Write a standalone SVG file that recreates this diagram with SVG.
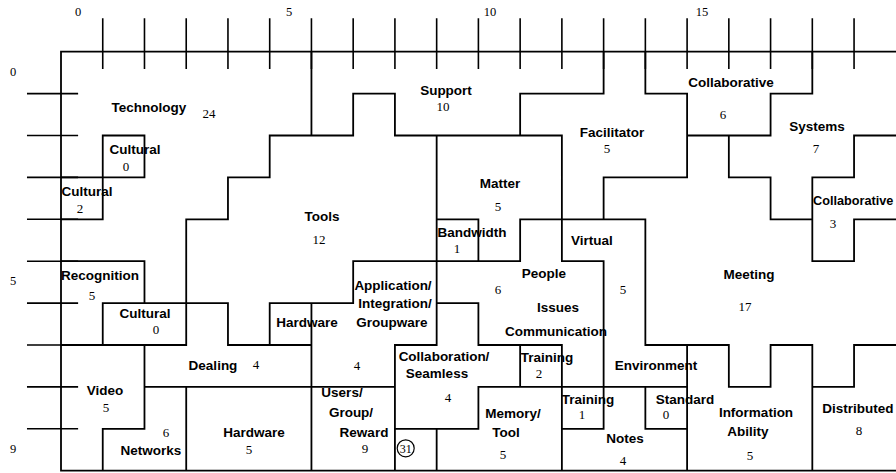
<svg xmlns="http://www.w3.org/2000/svg" width="896" height="473" viewBox="0 0 896 473">
<style>
.ln{fill:none;stroke:#000;stroke-width:1.8;stroke-linecap:square;vector-effect:non-scaling-stroke}
.tk{fill:none;stroke:#000;stroke-width:1.6;vector-effect:non-scaling-stroke}
.lb{font-family:"Liberation Sans",Arial,sans-serif;font-weight:bold;font-size:13.5px;fill:#000;text-anchor:middle}
.nm{font-family:"Liberation Serif","Times New Roman",serif;font-size:13px;fill:#000;text-anchor:middle}
.ax{font-family:"Liberation Serif","Times New Roman",serif;font-size:12.5px;fill:#000;text-anchor:middle}
</style>
<rect width="896" height="473" fill="#fff"/>
<g id="axes">
<g transform="translate(61,51.7) scale(41.74,41.9)">
<path class="tk" d="M1 -0.8V0.41M2 -0.8V0.41M3 -0.8V0.41M4 -0.8V0.41M5 -0.8V0.41M6 -0.8V0.41M7 -0.8V0.41M8 -0.8V0.41M9 -0.8V0.41M10 -0.8V0.41M11 -0.8V0.41M12 -0.8V0.41M13 -0.8V0.41M14 -0.8V0.41M15 -0.8V0.41M16 -0.8V0.41M17 -0.8V0.41M18 -0.8V0.41M19 -0.8V0.41"/>
<path class="tk" d="M-0.815 1H0.41M-0.815 2H0.41M-0.815 3H0.41M-0.815 4H0.41M-0.815 5H0.41M-0.815 6H0.41M-0.815 7H0.41M-0.815 8H0.41M-0.815 9H0.41"/>
</g>
<text class="ax" x="78" y="16">0</text>
<text class="ax" x="289" y="16">5</text>
<text class="ax" x="490" y="16">10</text>
<text class="ax" x="702" y="16">15</text>
<text class="ax" x="13" y="76">0</text>
<text class="ax" x="13" y="285">5</text>
<text class="ax" x="13" y="453">9</text>
</g>
<g id="boundaries">
<g transform="translate(61,51.7) scale(41.74,41.9)">
<path class="ln" d="M0 0H20.2M0 10H20.2M0 0V10
M7 1H8M11 1H13M14 1H15M17 1H18
M1 2H2M5 2H7M8 2H12M15 2H17M19 2H20.2
M0 3H2M4 3H5M13 3H15M16 3H17M18 3H19
M0 4H1M3 4H4M9 4H10M11 4H14M17 4H18M19 4H20.2
M0 5H2M7 5H11M12 5H13M18 5H19
M1 6H4M5 6H7M9 6H10
M0 7H3M4 7H6M8 7H9M10 7H12M14 7H16M17 7H18M19 7H20.2
M2 8H8M10 8H15M16 8H17M18 8H19
M1 9H2M8 9H10M12 9H13M14 9H15
M1 2V4M1 6V7M1 9V10
M2 2V3M2 5V6M2 7V9
M3 4V7M3 8V10
M4 3V4M4 6V7
M5 2V3M5 6V7
M6 0V2M6 6V10
M7 1V2M7 5V6
M8 1V2M8 7V10
M9 2V7M9 9V10
M10 4V5M10 6V7M10 8V9
M11 1V2M11 4V5M11 7V8
M12 2V5M12 7V10
M13 0V1M13 3V4M13 5V9
M14 0V1M14 4V7M14 8V9
M15 1V3M15 7V10
M16 2V3M16 7V8
M17 1V2M17 3V4M17 7V8
M18 0V1M18 3V5M18 7V10
M19 2V3M19 4V5M19 7V8"/>
</g>
</g>
<g id="technology"><text class="lb" x="149" y="112">Technology</text><text class="nm" x="209" y="118">24</text></g>
<g id="cultural-a"><text class="lb" x="135" y="154">Cultural</text><text class="nm" x="126" y="171">0</text></g>
<g id="cultural-b"><text class="lb" x="87" y="196">Cultural</text><text class="nm" x="80" y="213">2</text></g>
<g id="tools"><text class="lb" x="322" y="221">Tools</text><text class="nm" x="319" y="244">12</text></g>
<g id="support"><text class="lb" x="446" y="95">Support</text><text class="nm" x="443" y="111">10</text></g>
<g id="facilitator"><text class="lb" x="612" y="137">Facilitator</text><text class="nm" x="607" y="153">5</text></g>
<g id="collaborative-6"><text class="lb" x="731" y="87">Collaborative</text><text class="nm" x="723" y="119">6</text></g>
<g id="systems"><text class="lb" x="817" y="131">Systems</text><text class="nm" x="816" y="153">7</text></g>
<g id="matter"><text class="lb" x="500" y="188">Matter</text><text class="nm" x="498" y="211">5</text></g>
<g id="collaborative-3"><text class="lb" x="813" y="205" style="text-anchor:start;font-size:12.7px">Collaborative</text><text class="nm" x="833" y="228">3</text></g>
<g id="bandwidth"><text class="lb" x="472" y="237">Bandwidth</text><text class="nm" x="457" y="253">1</text></g>
<g id="virtual-environment"><text class="lb" x="592" y="245">Virtual</text><text class="nm" x="623" y="294">5</text><text class="lb" x="656" y="370">Environment</text></g>
<g id="people-issues-communication"><text class="lb" x="544" y="278">People</text><text class="nm" x="498" y="294">6</text><text class="lb" x="558" y="312">Issues</text><text class="lb" x="556" y="336">Communication</text></g>
<g id="meeting"><text class="lb" x="749" y="279">Meeting</text><text class="nm" x="745" y="311">17</text></g>
<g id="training-2"><text class="lb" x="547" y="362">Training</text><text class="nm" x="539" y="378">2</text></g>
<g id="training-1"><text class="lb" x="588" y="404">Training</text><text class="nm" x="582" y="419">1</text></g>
<g id="standard"><text class="lb" x="685" y="404">Standard</text><text class="nm" x="666" y="419">0</text></g>
<g id="information-ability"><text class="lb" x="756" y="417">Information</text><text class="lb" x="748" y="436">Ability</text><text class="nm" x="750" y="460">5</text></g>
<g id="distributed"><text class="lb" x="858" y="413">Distributed</text><text class="nm" x="859" y="435">8</text></g>
<g id="memory-tool"><text class="lb" x="513" y="418">Memory/</text><text class="lb" x="506" y="437">Tool</text><text class="nm" x="503" y="459">5</text></g>
<g id="notes"><text class="lb" x="625" y="443">Notes</text><text class="nm" x="623" y="465">4</text></g>
<g id="collaboration-seamless"><text class="lb" x="444" y="361">Collaboration/</text><text class="lb" x="437" y="378">Seamless</text><text class="nm" x="448" y="402">4</text></g>
<g id="recognition"><text class="lb" x="100" y="280">Recognition</text><text class="nm" x="92" y="300">5</text></g>
<g id="cultural-c"><text class="lb" x="145" y="318">Cultural</text><text class="nm" x="156" y="334">0</text></g>
<g id="hardware-a"><text class="lb" x="307" y="327">Hardware</text></g>
<g id="application"><text class="lb" x="393" y="290">Application/</text><text class="lb" x="395" y="308">Integration/</text><text class="lb" x="392" y="327">Groupware</text><text class="nm" x="357" y="370">4</text></g>
<g id="dealing"><text class="lb" x="213" y="370">Dealing</text><text class="nm" x="256" y="369">4</text></g>
<g id="video"><text class="lb" x="105" y="395">Video</text><text class="nm" x="106" y="412">5</text></g>
<g id="networks"><text class="nm" x="166" y="437">6</text><text class="lb" x="151" y="455">Networks</text></g>
<g id="hardware-b"><text class="lb" x="254" y="437">Hardware</text><text class="nm" x="249" y="454">5</text></g>
<g id="users-group-reward"><text class="lb" x="342" y="397">Users/</text><text class="lb" x="351" y="417">Group/</text><text class="lb" x="364" y="437">Reward</text><text class="nm" x="365" y="453">9</text></g>
<g id="total"><circle cx="405.7" cy="448.3" r="8.5" fill="none" stroke="#000" stroke-width="1.2"/><text class="nm" x="405.7" y="452.5" style="font-size:12px">31</text></g>
</svg>
